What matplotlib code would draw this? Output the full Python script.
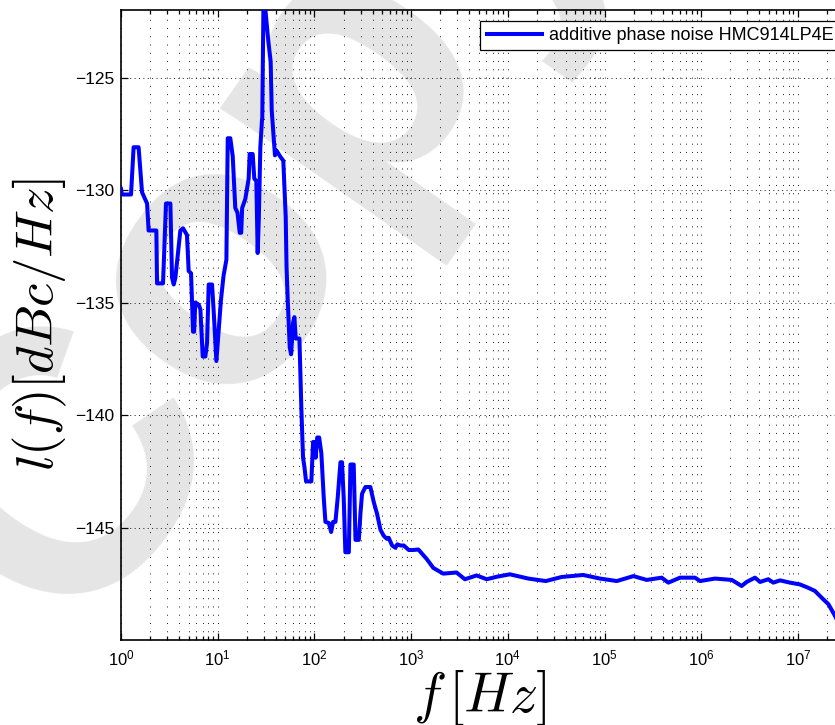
import matplotlib
matplotlib.use('Agg')
import matplotlib.pyplot as plt
from matplotlib import ticker
import numpy as np

plt.rcParams['font.family'] = ['Liberation Sans', 'DejaVu Sans']
plt.rcParams['mathtext.fontset'] = 'cm'

# phase noise trace (Hz, dBc/Hz)
freq = [1.0, 1.02, 1.27, 1.35, 1.52, 1.65, 1.86, 1.93, 2.32, 2.36, 2.72, 2.92, 3.24,
        3.37, 3.51, 3.65, 4.11, 4.38, 4.81, 5.01, 5.30, 5.56, 5.70, 5.87, 6.36, 6.62,
        7.00, 7.45, 7.76, 8.07, 8.74, 9.09, 9.69, 10.0, 10.5, 10.8, 11.5, 12.3, 12.7,
        13.5, 14.3, 15.2, 16.0, 16.9, 17.5, 17.9, 19.3, 20.9, 21.4, 23.0, 23.9, 25.1,
        25.9, 26.6, 27.6, 28.7, 28.9, 29.7, 31.0, 33.4, 35.3, 36.2, 39.1, 40.5, 44.1,
        47.7, 49.0, 50.5, 51.5, 53.0, 55.6, 57.4, 60.2, 62.1, 64.1, 70.0, 73.4, 76.3,
        78.8, 82.0, 93.0, 96.9, 100, 103, 107, 112, 118, 125, 130, 141, 149, 156, 165,
        174, 186, 193, 201, 209, 227, 236, 255, 260, 266, 288, 299, 311, 337, 379, 411,
        445, 482, 521, 560, 587, 636, 689, 720, 776, 840, 946, 1040, 1190, 1450, 1700,
        2150, 2950, 3600, 4760, 6050, 7670, 1.05e4, 1.63e4, 2.47e4, 3.6e4, 6.01e4,
        9.0e4, 1.34e5, 1.99e5, 2.73e5, 3.9e5, 4.57e5, 6.04e5, 8.63e5, 9.73e5, 1.39e6,
        2.07e6, 2.62e6, 2.95e6, 3.6e6, 4.06e6, 4.94e6, 5.57e6, 6.53e6, 8.28e6, 1.05e7,
        1.28e7, 1.50e7, 1.76e7, 2.07e7, 2.42e7, 2.6e7]
noise = [-129.95, -130.2, -130.2, -128.1, -128.1, -130.1, -130.6, -131.8, -131.8, -134.15,
         -134.15, -130.6, -130.6, -133.9, -134.2, -133.9, -131.8, -131.7, -132.0, -133.6,
         -133.7, -136.3, -136.3, -135.0, -135.1, -135.3, -137.4, -137.4, -136.8, -134.2,
         -134.2, -135.4, -137.6, -136.8, -135.5, -134.9, -133.8, -133.1, -127.7, -127.7,
         -128.5, -130.8, -131.0, -131.9, -131.9, -130.8, -130.4, -129.5, -128.4, -128.4,
         -129.5, -129.6, -132.8, -131.3, -128.1, -126.9, -126.8, -121.9, -121.9, -123.4,
         -124.3, -126.46, -128.46, -128.24, -128.5, -128.7, -129.9, -131.2, -133.4, -134.9,
         -137.0, -137.3, -135.9, -135.65, -136.6, -136.6, -139.8, -141.9, -142.3, -142.95,
         -142.95, -141.2, -141.2, -141.9, -141.0, -141.0, -141.7, -143.7, -144.75, -144.8,
         -145.2, -144.75, -144.75, -143.7, -142.1, -142.1, -143.7, -146.1, -146.1, -142.2,
         -142.2, -143.7, -145.55, -145.55, -144.4, -143.5, -143.2, -143.2, -143.87, -144.4,
         -145.1, -145.37, -145.5, -145.46, -145.8, -145.9, -145.75, -145.8, -145.8, -146.0,
         -146.0, -145.98, -146.4, -146.8, -147.05, -147.0, -147.3, -147.13, -147.3, -147.19,
         -147.08, -147.27, -147.38, -147.2, -147.11, -147.27, -147.38, -147.16, -147.33,
         -147.23, -147.45, -147.23, -147.23, -147.38, -147.27, -147.33, -147.6, -147.42,
         -147.23, -147.42, -147.3, -147.45, -147.35, -147.45, -147.53, -147.68, -147.82,
         -148.12, -148.41, -148.93, -149.2]
series_label = 'additive phase noise HMC914LP4E'
y_ticks = [-145, -140, -135, -130, -125]
x_decades = [0, 1, 2, 3, 4, 5, 6, 7]

W, H = 835, 725
fig = plt.figure(figsize=(W / 100, H / 100), dpi=100)

# gray watermark behind the plot
fig.text(76 / W, 1 - 638 / H, 'Copy', fontsize=270, fontweight='bold', color='#e5e5e5',
         rotation=55, rotation_mode='anchor', ha='left', va='baseline', zorder=-5)

ax = fig.add_axes([121 / W, 85 / H, (850 - 121) / W, 630 / H])
ax.patch.set_facecolor('none')

ax.semilogx(freq, noise, color='#0000ff', lw=2.9, label=series_label, zorder=3)

ax.set_xlim(1, 10 ** ((850 - 121) / 96.7))
ax.set_ylim(-150, -122)
ax.set_yticks(y_ticks)
ax.set_xticks([10.0 ** d for d in x_decades])
ax.xaxis.set_major_formatter(ticker.FuncFormatter(
    lambda v, p: r'$\mathregular{10^{%d}}$' % round(np.log10(v))))
ax.xaxis.set_minor_locator(ticker.LogLocator(base=10, subs=np.arange(2, 10), numticks=50))
ax.xaxis.set_minor_formatter(ticker.NullFormatter())

ax.tick_params(which='both', direction='in', top=True, right=True, width=0.9)
ax.tick_params(which='major', length=5)
ax.tick_params(which='minor', length=3)
ax.tick_params(axis='x', labelsize=12, pad=6)
ax.tick_params(axis='y', labelsize=12.5, pad=5)
for s in ax.spines.values():
    s.set_linewidth(1.2)

ax.grid(True, axis='x', which='both', color='0.1', lw=0.7, ls=(0, (1, 7.5)))
ax.grid(True, axis='y', which='major', color='0.1', lw=0.7, ls=(0, (1, 3.5)))
ax.set_axisbelow(True)

ax.set_xlabel(r'$f\,[Hz]$', fontsize=40)
ax.xaxis.set_label_coords((480 - 121) / 729, -0.045, transform=ax.transAxes)
ax.xaxis.label.set_va('top')
ax.set_ylabel(r'$l(f)[dBc/Hz]$', fontsize=38, labelpad=4)

leg = ax.legend(loc='upper right', bbox_to_anchor=(840 / W, 1 - 20.7 / H),
                bbox_transform=fig.transFigure, borderaxespad=0, fontsize=13,
                handlelength=3.05, handletextpad=0.4, borderpad=0.35, fancybox=False,
                framealpha=1, edgecolor='black')
leg.get_frame().set_linewidth(0.9)

fig.savefig('out.png', dpi=100)
